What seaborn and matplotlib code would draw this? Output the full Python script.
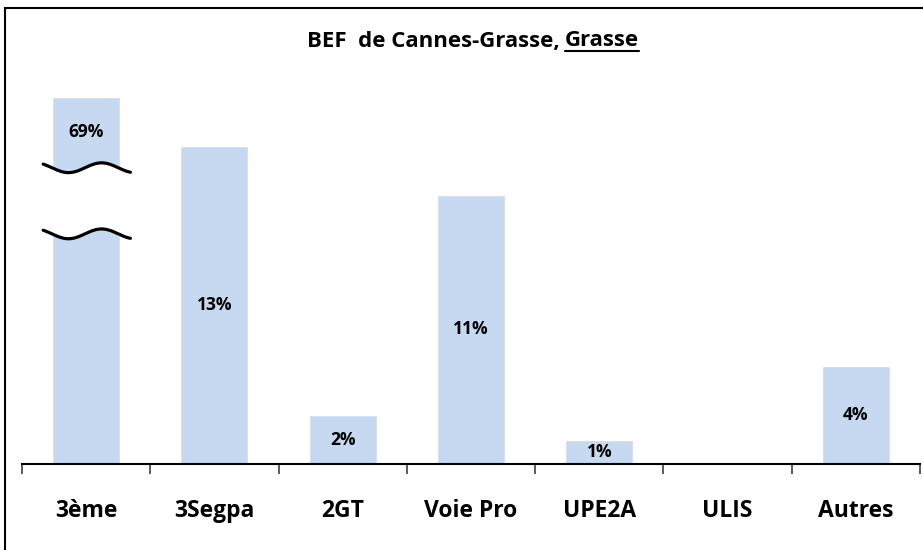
import numpy as np
import pandas as pd
import seaborn as sns
import matplotlib.pyplot as plt
from matplotlib.patches import Rectangle

# data
categories = ["3ème", "3Segpa", "2GT", "Voie Pro", "UPE2A", "ULIS", "Autres"]
values = [69, 13, 2, 11, 1, 0, 4]
labels = ["69%", "13%", "2%", "11%", "1%", "", "4%"]
cap = 15  # first bar is drawn with a broken axis

sns.set_style("white")
plt.rcParams["font.family"] = ["Open Sans", "DejaVu Sans"]
plt.rcParams["text.color"] = "black"
plt.rcParams["xtick.labelcolor"] = "black"

df = pd.DataFrame({"cat": categories, "val": values})
df["shown"] = df["val"].clip(upper=cap)

fig = plt.figure(figsize=(9.23, 5.5), dpi=100)
ax = fig.add_axes([22 / 923, 86 / 550, 898 / 923, 404 / 550])

bar_color = "#C6D9F0"
sns.barplot(data=df, x="cat", y="shown", color=bar_color, saturation=1,
            width=0.53, ax=ax)

ax.set_ylim(0, 16.5)
ax.set_xlim(-0.5, len(categories) - 0.5)

# value labels
for i, (v, s, lab) in enumerate(zip(df["val"], df["shown"], labels)):
    if not lab:
        continue
    if v > cap:
        y = (cap + 12.1) / 2
    else:
        y = s / 2
    ax.text(i, y, lab, ha="center", va="center", fontsize=12.5,
            fontweight="bold", color="black")

# axis break on the first bar
xs = np.linspace(-0.335, 0.345, 200)
t = (xs - xs[0]) / (xs[-1] - xs[0])
wave = -0.2 * np.sin(2 * np.pi * (t - 0.10) / 0.76)
upper = 12.1 + wave
lower = 9.4 + wave
ax.fill_between(xs, lower, upper, color="white", zorder=3)
ax.plot(xs, upper, color="black", lw=2.3, zorder=4, solid_capstyle="round")
ax.plot(xs, lower, color="black", lw=2.3, zorder=4, solid_capstyle="round")

# axes styling
for side in ["top", "right", "left"]:
    ax.spines[side].set_visible(False)
ax.spines["bottom"].set_linewidth(1.5)
ax.spines["bottom"].set_color("black")
ax.set_yticks([])
ax.set_ylabel("")
ax.set_xlabel("")
ax.set_xticks(range(len(categories)))
ax.set_xticklabels(categories, fontsize=16.5, fontweight="bold", color="black")
ax.tick_params(axis="x", which="major", length=0, pad=25)
ax.set_xticks(np.arange(-0.5, len(categories), 1), minor=True)
ax.tick_params(axis="x", which="minor", bottom=True, length=7, width=1.2,
               color="#404040", direction="out")

# title with underlined last word
ty = 1 - 41 / 550
t1 = fig.text(0.0, ty, "BEF  de Cannes-Grasse, ", fontsize=16,
              fontweight="bold", va="center", color="black")
t2 = fig.text(0.0, ty, "Grasse", fontsize=16, fontweight="bold", va="center",
              color="black")
fig.canvas.draw()
r = fig.canvas.get_renderer()
w1 = t1.get_window_extent(r).width / fig.bbox.width
w2 = t2.get_window_extent(r).width / fig.bbox.width
x0 = 473 / 923 - (w1 + w2) / 2
t1.set_x(x0)
t2.set_x(x0 + w1)
fig.canvas.draw()
bb = t2.get_window_extent(r)
uy = (bb.y0 + 1) / fig.bbox.height
fig.add_artist(plt.Line2D([bb.x0 / fig.bbox.width, bb.x1 / fig.bbox.width],
                          [uy, uy], color="black", lw=1.5,
                          transform=fig.transFigure))

# frame around the chart
fig.add_artist(Rectangle((5 / 923, -0.05), 1.0, 1.05 - 8 / 550,
                         transform=fig.transFigure, fill=False,
                         edgecolor="black", lw=1.5))

fig.savefig("out.png", dpi=100)
